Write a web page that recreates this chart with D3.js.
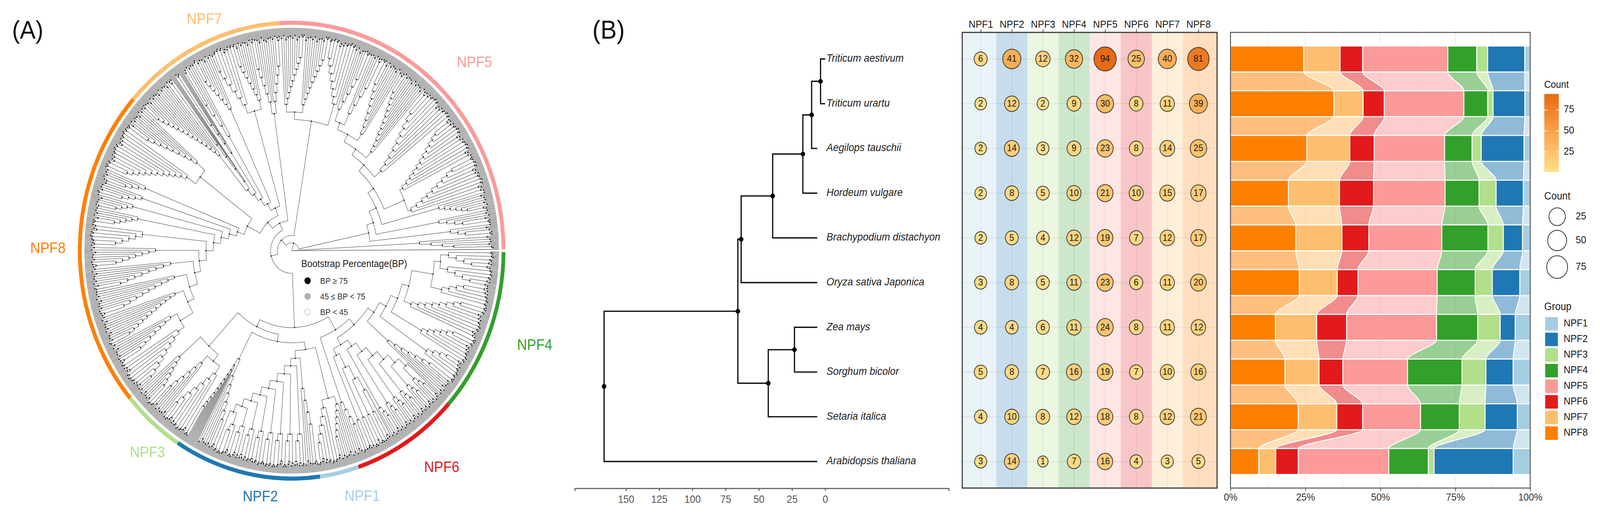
<!DOCTYPE html>
<html><head><meta charset="utf-8">
<script src="https://cdn.jsdelivr.net/npm/d3@7"></script>
<style>html,body{margin:0;padding:0;background:#fff;overflow:hidden;width:100%;height:100%}svg{display:block;width:100vw;height:100vh}text{font-family:"Liberation Sans",Arial,sans-serif}</style>
</head><body><svg id="c" viewBox="0 0 4408 1319" preserveAspectRatio="none"></svg>
<script>
// ---------- data ----------
const groups = ["NPF1","NPF2","NPF3","NPF4","NPF5","NPF6","NPF7","NPF8"];
const groupColors = ["#A6CEE3","#1F78B4","#B2DF8A","#33A02C","#FB9A99","#E31A1C","#FDBF6F","#FF7F00"];
const species = ["Triticum aestivum","Triticum urartu","Aegilops tauschii","Hordeum vulgare","Brachypodium distachyon","Oryza sativa Japonica","Zea mays","Sorghum bicolor","Setaria italica","Arabidopsis thaliana"];
const npf1 = [6,2,2,2,2,3,4,5,4,3];
const npf2 = [41,12,14,8,5,8,4,8,10,14];
const npf3 = [12,2,3,5,4,5,6,7,8,1];
const npf4 = [32,9,9,10,12,11,11,16,12,7];
const npf5 = [94,30,23,21,19,23,24,19,18,16];
const npf6 = [25,8,8,10,7,6,8,7,8,4];
const npf7 = [40,11,14,15,12,11,11,10,12,3];
const npf8 = [81,39,25,17,17,20,12,16,21,5];
const stackOrder = ["NPF8","NPF7","NPF6","NPF5","NPF4","NPF3","NPF2","NPF1"];
const ringOrder = ["NPF4","NPF6","NPF1","NPF2","NPF3","NPF8","NPF7","NPF5"];
const ringLabels = [["NPF7",563,61],["NPF8",132,648],["NPF5",1307,172],["NPF4",1473,896],["NPF6",1217,1209],["NPF3",406,1171],["NPF2",717,1284],["NPF1",998,1283]];
// species tree: [node age, child, child]; tips are species indices
const speciesTree = [166.3,[65.7,[63.2,[39.5,[16.8,[10.2,[3.5,0,1],2],3],4],5],[42.8,[23.1,6,7],8]],9];
const tipVisibleEnd = [0,0,6,6,6,6,6,6,6,6];
const treeTicks = [150,125,100,75,50,25,0];
const pctTicks = [0,0.25,0.5,0.75,1];
const bootstrapLegend = ["BP \u2265 75","45 \u2264 BP < 75","BP < 45"];
// gene tree: node = [radius, child, child]; clade = [leaves, base radius, side, tooth size]
const npf4Clade = [276,[296,[316,[335,[394,[411,[15,432,1],[15,432,1]],[16,425,-1]],[28,356,-1]],[22,412,-1]],[15,451,-1]],[18,352,-1]];
const npf6Clade = [276,[55,295,-1,9],[25,295,-1,6]];
const npf6Last = [11,412,-1];
const npf1Clade = [391,[15,412,1],[18,412,1]];
const npf2Main = [276,[12,354,-1],[83,295,1,10]];
const npf2Left = [313,[15,360,-1],[14,333,1,1]];
const npf3Clade = [334,[356,[23,380,1],[15,380,1]],[15,412,-1]];
const npf8Low = [273,[296,[315,[355,[26,375,-1],[18,375,-1]],[25,340,-1]],[22,330,-1]],[19,335,-1]];
const npf8Clade = [137,[157,[177,[197,[216,[236,[256,npf8Low,[18,375,-1]],[19,413,-1]],[14,432,-1]],[11,452,-1]],[11,434,-1]],[11,434,-1]],[315,[37,345,-1],[22,345,-1]]];
const npf7Main = [118,[137,[157,[177,[197,[31,315,-1],[8,220,-1,1]],[8,300,-1,1]],[11,340,-1]],[17,400,-1]],[372,[20,395,-1],[17,395,-1]]];
const npf7Last = [354,[13,385,-1],[14,385,1]];
const npf5K = [336,[355,[22,375,1],[22,375,1]],[24,393,-1]];
const npf5Chain = [276,[296,[314,[335,[353,[14,385,1],[12,385,1]],[20,355,-1]],[25,335,-1]],[31,320,-1]],[336,[37,345,-1],[31,345,-1]]];
const npf5M = [217,[236,[257,npf5Chain,[15,420,1]],[12,412,1]],[10,440,1]];
const npf5Tail = [2,[11,353,1],[1,500,1]];
const geneTree = [1,[20,[39,[58,[197,[236,[256,npf4Clade,npf6Clade],npf6Last],[217,[236,[256,npf1Clade,npf2Main],npf2Left],npf3Clade]],[77.5,[97.6,npf8Clade,npf7Main],npf7Last]],npf5K],npf5M],npf5Tail];

const counts = {NPF1:npf1,NPF2:npf2,NPF3:npf3,NPF4:npf4,NPF5:npf5,NPF6:npf6,NPF7:npf7,NPF8:npf8};
const colorOf = d3.scaleOrdinal(groups, groupColors);
const svg = d3.select("#c");
const T = (g,x,y,s,size,o={})=>g.append("text").attr("x",x).attr("y",y).text(s).attr("font-size",size)
  .attr("fill",o.fill||"#1a1a1a").attr("text-anchor",o.anchor||"start").attr("font-style",o.style||null)
  .attr("dominant-baseline",o.base||null);

// ---------- panel labels ----------
T(svg,33,99,"(A)",65,{fill:"#111"});
T(svg,1632,99,"(B)",67,{fill:"#111"});

// ---------- (A) circular tree ----------
const A = svg.append("g").attr("transform","translate(803.5,642)");
const R_TIP = 571;
const tipR = [549,544,551,540,547];
let tipIdx = 0;
function tooth(m,pr){
  if(m===1) return {r:R_TIP};
  const r = Math.max(Math.min(pr+4,558), tipR[tipIdx++%5]);
  if(m===2) return {r,kids:[{r:R_TIP},{r:R_TIP}]};
  const k = Math.floor(m/2);
  return {r,kids:[tooth(k,r),tooth(m-k,r)]};
}
function comb(n,r,dir,t){
  if(n<=4 || r>=530) return tooth(n,r);
  if(!t){ const rungs=Math.max(1,Math.round((540-r)/18)); t=Math.max(2,Math.round(n/rungs)); }
  if(n<=t) return t>4 ? comb(n,r,dir) : tooth(n,r);
  const sub = t>4, end = Math.max(sub?485:540, r+20);
  const dr = (end-r)/Math.ceil(n/t);
  const first = sub ? comb(t,Math.max(r+dr+10,470),dir) : tooth(t,r);
  const rest = comb(n-t,r+dr,dir,t);
  return {r,kids:dir>0?[first,rest]:[rest,first]};
}
const expand = s => s.slice(1).every(v=>typeof v==="number") ? comb(...s) : {r:s[0],kids:s.slice(1).map(expand)};
const fan = d3.hierarchy(expand(geneTree), d=>d.kids);
const nLeaves = fan.leaves().length, step = 360/nLeaves;
d3.cluster().size([360-step,1]).separation(()=>1)(fan);
const rad = d => (d.x+step/2)*Math.PI/180;
const innerPath = d3.path(), leafPath = d3.path();
fan.descendants().forEach(d=>{
  if(!d.parent) return;
  const p = d.parent, a0 = rad(p), a1 = rad(d), pr = p.data.r;
  const ctx = d.children ? innerPath : leafPath;
  const cross = Math.abs(a1-a0)>1e-6;
  if(cross){ ctx.moveTo(pr*Math.cos(a0),pr*Math.sin(a0)); ctx.arc(0,0,pr,a0,a1,a1<a0); }
  else ctx.moveTo(pr*Math.cos(a1),pr*Math.sin(a1));
  ctx.lineTo(d.data.r*Math.cos(a1),d.data.r*Math.sin(a1));
});
A.append("path").attr("d",leafPath.toString()).attr("fill","none").attr("stroke","#7c7c7c").attr("stroke-width",1.85);
A.append("path").attr("d",innerPath.toString()).attr("fill","none").attr("stroke","#777").attr("stroke-width",1.5);
A.selectAll("circle.n").data(fan.descendants().filter(d=>d.children&&d.data.r>15)).join("circle").attr("class","n")
  .attr("cx",d=>d.data.r*Math.cos(rad(d))).attr("cy",d=>d.data.r*Math.sin(rad(d))).attr("r",1.8).attr("fill","#111");
// ring
const pie = d3.pie().sort(null).value(g=>d3.sum(counts[g])).startAngle(Math.PI/2+0.006).endAngle(Math.PI*2.5-0.006);
const arcGen = d3.arc().innerRadius(578.5).outerRadius(589);
A.selectAll("path.ring").data(pie(ringOrder)).join("path").attr("class","ring").attr("d",arcGen).attr("fill",d=>colorOf(d.data));
ringLabels.forEach(([g,x,y])=>T(svg,x,y,g,38,{fill:colorOf(g),anchor:"middle"}));
// bootstrap legend
T(svg,830,684,"Bootstrap Percentage(BP)",25,{fill:"#222"});
const legY = d3.scalePoint().domain(bootstrapLegend).range([719,799]);
bootstrapLegend.forEach((s,i)=>{
  svg.append("circle").attr("cx",847.5).attr("cy",legY(s)).attr("r",8)
    .attr("fill",["#000","#b0b0b0","#fff"][i]).attr("stroke",["#000","#b0b0b0","#bbb"][i]).attr("stroke-width",1.5);
  T(svg,882,legY(s)+8,s,21.5,{fill:"#333"});
});

// ---------- (B) species tree ----------
const rowY = d3.scaleLinear().domain([-0.594,9.594]).range([83,1250]);
const ageX = d3.scaleLinear().domain([0,150]).range([2273.4,1724]);
const sp = svg.append("g");
const toTree = s => Array.isArray(s) ? {age:s[0],kids:s.slice(1).map(toTree)} : {age:0,tip:s};
const spRoot = d3.hierarchy(toTree(speciesTree), d=>d.kids);
spRoot.eachAfter(d=>{ d.py = d.children ? d3.mean(d.children,c=>c.py) : rowY(d.data.tip); });
const spPath = d3.path();
spRoot.descendants().forEach(d=>{
  if(!d.parent) return;
  spPath.moveTo(ageX(d.parent.data.age),d.parent.py);
  spPath.lineTo(ageX(d.parent.data.age),d.py);
  spPath.lineTo(ageX(d.children?d.data.age:tipVisibleEnd[d.data.tip]),d.py);
});
sp.append("path").attr("d",spPath.toString()).attr("fill","none").attr("stroke","#111").attr("stroke-width",3.4);
sp.selectAll("circle").data(spRoot.descendants().filter(d=>d.children)).join("circle")
  .attr("cx",d=>ageX(d.data.age)).attr("cy",d=>d.py).attr("r",6.2).attr("fill","#000");
species.forEach((s,i)=>T(sp,2277,rowY(i),s,27.4,{style:"italic",base:"middle",fill:"#222"}));
const axT = d3.scaleLinear().domain([188.5,-93]).range([1583.5,2614]);
const axG = svg.append("g").attr("transform","translate(0,1250.6)")
  .call(d3.axisBottom(axT).tickValues(treeTicks).tickSizeOuter(0).tickSize(7).tickPadding(11));
axG.selectAll("path,line").attr("stroke","#5a5a5a").attr("stroke-width",2.6);
axG.selectAll("text").attr("font-size",27).attr("fill","#555").attr("font-family","Liberation Sans");

// ---------- bubble matrix ----------
const colX = d3.scaleLinear().domain([-0.6,7.6]).range([2650.4,3353]);
const H = svg.append("g");
groups.forEach((g,i)=>{
  const x0 = i===0?colX(-0.6):colX(i-0.5), x1 = i===7?colX(7.6):colX(i+0.5);
  H.append("rect").attr("x",x0).attr("y",83).attr("width",x1-x0).attr("height",1167).attr("fill",colorOf(g)).attr("fill-opacity",0.25);
  H.append("line").attr("x1",colX(i)).attr("x2",colX(i)).attr("y1",83).attr("y2",1250).attr("stroke","#000").attr("stroke-opacity",0.07).attr("stroke-width",2);
});
species.forEach((s,i)=>H.append("line").attr("x1",2651).attr("x2",3353).attr("y1",rowY(i)).attr("y2",rowY(i)).attr("stroke","#000").attr("stroke-opacity",0.07).attr("stroke-width",2));
const sizeR = d3.scaleSqrt().domain([0,93]).range([14.3,30.7]);
const fillC = d3.scaleLinear().domain([1,45,94]).range(["#ffe08c","#fba850","#e76a10"]);
groups.forEach((g,i)=>counts[g].forEach((v,j)=>{
  H.append("circle").attr("cx",colX(i)).attr("cy",rowY(j)).attr("r",sizeR(v-1)).attr("fill",fillC(v)).attr("stroke","#333").attr("stroke-width",2);
  T(H,colX(i),rowY(j)+1,v,24,{anchor:"middle",base:"middle",fill:"#1a1a1a"});
}));
H.append("rect").attr("x",2651).attr("y",83).attr("width",702).attr("height",1167).attr("fill","none").attr("stroke","#3a3a3a").attr("stroke-width",3);
const topAx = svg.append("g").attr("transform","translate(0,83)")
  .call(d3.axisTop(d3.scalePoint().domain(groups).range([colX(0),colX(7)])).tickSize(8).tickSizeOuter(0).tickPadding(4));
topAx.select("path").remove();
topAx.selectAll("line").attr("stroke","#444").attr("stroke-width",2);
topAx.selectAll("text").attr("font-size",26.4).attr("fill","#1a1a1a").attr("font-family","Liberation Sans");

// ---------- alluvial ----------
const pctX = d3.scaleLinear().domain([0,1]).range([3390,4215.7]);
const barH = 33.2;
const rows = species.map((s,j)=>Object.fromEntries(groups.map(g=>[g,counts[g][j]])));
const stacked = d3.stack().keys(stackOrder).offset(d3.stackOffsetExpand)(rows);
const P = svg.append("g");
d3.range(0.125,1,0.125).forEach((v,i)=>P.append("line").attr("x1",pctX(v)).attr("x2",pctX(v)).attr("y1",84).attr("y2",1250)
  .attr("stroke","#000").attr("stroke-opacity",i%2?0.09:0.045).attr("stroke-width",2));
stacked.forEach(layer=>{
  const col = colorOf(layer.key);
  for(let j=0;j<9;j++){
    const a=layer[j], b=layer[j+1], y0=rowY(j)+barH, y1=rowY(j+1)-barH, k=(y1-y0)*0.27;
    const p=d3.path();
    p.moveTo(pctX(a[0]),y0);
    p.bezierCurveTo(pctX(a[0]),y0+k,pctX(b[0]),y1-k,pctX(b[0]),y1);
    p.lineTo(pctX(b[1]),y1);
    p.bezierCurveTo(pctX(b[1]),y1-k,pctX(a[1]),y0+k,pctX(a[1]),y0);
    p.closePath();
    P.append("path").attr("d",p.toString()).attr("fill",col).attr("fill-opacity",0.5).attr("stroke","#fff").attr("stroke-width",2.4);
  }
});
stacked.forEach(layer=>{
  P.selectAll(null).data(layer).join("rect")
    .attr("x",d=>pctX(d[0])).attr("width",d=>pctX(d[1])-pctX(d[0]))
    .attr("y",(d,j)=>rowY(j)-barH).attr("height",barH*2)
    .attr("fill",colorOf(layer.key)).attr("stroke","#fff").attr("stroke-width",2.6);
});
P.append("rect").attr("x",3390).attr("y",83).attr("width",825.7).attr("height",1167).attr("fill","none").attr("stroke","#555").attr("stroke-width",2.6);
const pAx = svg.append("g").attr("transform","translate(0,1250)")
  .call(d3.axisBottom(pctX).tickValues(pctTicks).tickFormat(d3.format(".0%")).tickSize(8).tickSizeOuter(0).tickPadding(6));
pAx.select("path").remove();
pAx.selectAll("line").attr("stroke","#555").attr("stroke-width",2);
pAx.selectAll("text").attr("font-size",26).attr("fill","#333").attr("font-family","Liberation Sans");

// ---------- legends ----------
const L = svg.append("g");
T(L,4254,225,"Count",25.5);
const gradVals = d3.range(1,94.01,3.1);
const barY = d3.scaleLinear().domain([25,75]).range([389,281.5]);
const grad = svg.append("defs").append("linearGradient").attr("id","cg").attr("x1",0).attr("x2",0).attr("y1",1).attr("y2",0);
gradVals.forEach(v=>grad.append("stop").attr("offset",(v-1)/93).attr("stop-color",fillC(v)));
L.append("rect").attr("x",4254.5).attr("y",barY(94)).attr("width",40).attr("height",barY(1)-barY(94)).attr("fill","url(#cg)");
[25,50,75].forEach(v=>{
  [[4254.5,4262.5],[4286.5,4294.5]].forEach(([a,b])=>L.append("line").attr("x1",a).attr("x2",b).attr("y1",barY(v)).attr("y2",barY(v)).attr("stroke","#fff").attr("stroke-width",1.6));
  T(L,4308,barY(v),v,26,{base:"middle"});
});
T(L,4254.5,511,"Count",27);
[[25,555],[50,616],[75,684]].forEach(([v,y])=>{
  L.append("circle").attr("cx",4290).attr("cy",y).attr("r",sizeR(v-1)).attr("fill","none").attr("stroke","#333").attr("stroke-width",2);
  T(L,4341,y,v,26,{base:"middle"});
});
T(L,4254.5,794,"Group",27);
const gY = d3.scaleBand().domain(groups).range([812,1132]);
groups.forEach(g=>{
  L.append("rect").attr("x",4257).attr("y",gY(g)).attr("width",35).attr("height",34.5).attr("fill",colorOf(g));
  T(L,4308,gY(g)+17.5,g,26,{base:"middle"});
});
</script></body></html>
